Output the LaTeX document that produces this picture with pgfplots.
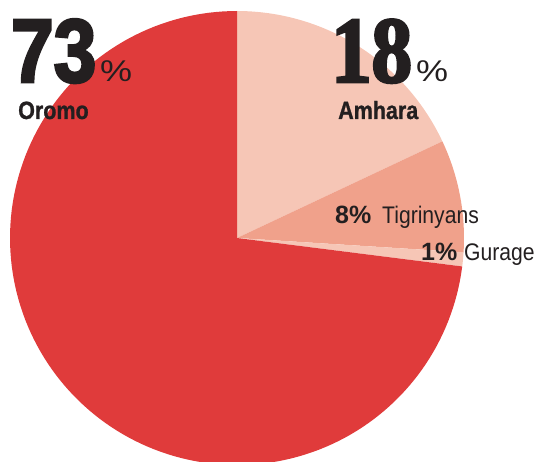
\documentclass[border=0pt]{standalone}
\usepackage{fontspec}
\usepackage{pgfplots}
\pgfplotsset{compat=1.18}
\setmainfont{Liberation Sans}
\newfontfamily\bigcond[FakeStretch=0.85,FakeBold=3]{Liberation Sans Bold}
\newfontfamily\bigserif[FakeStretch=0.86,FakeBold=3]{Liberation Serif Bold}
\newfontfamily\labcond[FakeStretch=0.86,FakeBold=1]{Liberation Sans Bold}
\newfontfamily\smallcond[FakeStretch=0.88]{Liberation Sans}
\newfontfamily\pct[FakeStretch=1.2]{Liberation Sans}
\definecolor{oromo}{HTML}{E03B3B}
\definecolor{amhara}{HTML}{F6C6B6}
\definecolor{tigr}{HTML}{F0A18B}
\definecolor{txt}{HTML}{231F20}
% shares (%): Amhara 18, Tigrinyans 8, Gurage 1, Oromo 73 (clockwise from top)
\begin{document}
\begin{tikzpicture}
\useasboundingbox (0,0) rectangle (538pt,461pt);
\begin{axis}[x=1pt,y=1pt,xmin=0,xmax=538,ymin=0,ymax=461,
  anchor=origin, at={(0pt,0pt)}, hide axis, scale only axis, clip=true]
% Amhara 18%: 90 -> 90-3.6*18
\addplot[fill=amhara,draw=none,domain=90-3.6*18:90,samples=60]
  ({237+227*cos(x)},{223+227*sin(x)}) -- (237,223) -- cycle;
% Tigrinyans 8%
\addplot[fill=tigr,draw=none,domain=90-3.6*26:90-3.6*18,samples=30]
  ({237+227*cos(x)},{223+227*sin(x)}) -- (237,223) -- cycle;
% Gurage 1%
\addplot[fill=amhara,draw=none,domain=90-3.6*27:90-3.6*26,samples=10]
  ({237+227*cos(x)},{223+227*sin(x)}) -- (237,223) -- cycle;
% Oromo 73%
\addplot[fill=oromo,draw=none,domain=90-3.6*100:90-3.6*27,samples=150]
  ({237+227*cos(x)},{223+227*sin(x)}) -- (237,223) -- cycle;

\node[anchor=base west,inner sep=0,text depth=0pt,text=txt,font=\bigcond\fontsize{90}{90}\selectfont] at (axis cs:11,379) {73};
\node[anchor=base west,inner sep=0,text depth=0pt,text=txt,font=\pct\fontsize{30}{30}\selectfont] at (axis cs:100,379) {\%};
\node[anchor=base west,inner sep=0,text=txt,font=\labcond\fontsize{25}{25}\selectfont] at (axis cs:18,342) {Oromo};

\node[anchor=base west,inner sep=0,text depth=0pt,text=txt,font=\bigserif\fontsize{94}{94}\selectfont] at (axis cs:331,379) {18};
\node[anchor=base west,inner sep=0,text depth=0pt,text=txt,font=\pct\fontsize{30}{30}\selectfont] at (axis cs:416,379) {\%};
\node[anchor=base west,inner sep=0,text=txt,font=\labcond\fontsize{25}{25}\selectfont] at (axis cs:338,342) {Amhara};

\node[anchor=base west,inner sep=0,text=txt,font=\bfseries\fontsize{25}{25}\selectfont] at (axis cs:335,237) {8\%};
\node[anchor=base west,inner sep=0,text=txt,font=\smallcond\fontsize{24}{24}\selectfont] at (axis cs:382,237) {Tigrinyans};
\node[anchor=base west,inner sep=0,text=txt,font=\bfseries\fontsize{25}{25}\selectfont] at (axis cs:421,200) {1\%};
\node[anchor=base west,inner sep=0,text=txt,font=\smallcond\fontsize{24}{24}\selectfont] at (axis cs:464,200) {Gurage};
\end{axis}
\end{tikzpicture}
\end{document}
